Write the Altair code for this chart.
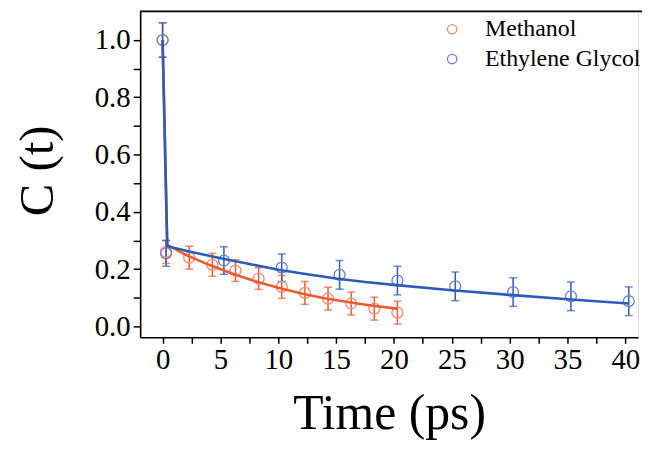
import altair as alt
import pandas as pd

# ---- data ----
series_order = ["Methanol", "Ethylene Glycol"]

meth_t = [0, 0.3, 2.3, 4.3, 6.3, 8.3, 10.3, 12.3, 14.3, 16.3, 18.3, 20.3]
meth_c = [1.0, 0.26, 0.24, 0.215, 0.195, 0.167, 0.138, 0.117, 0.097, 0.08, 0.062, 0.048]
meth_err = [0.06, 0.04, 0.04, 0.04, 0.038, 0.038, 0.04, 0.04, 0.04, 0.04, 0.04, 0.04]

eg_t = [0, 0.3, 5.3, 10.3, 15.3, 20.3, 25.3, 30.3, 35.3, 40.3]
eg_c = [1.0, 0.255, 0.23, 0.205, 0.18, 0.16, 0.14, 0.12, 0.105, 0.088]
eg_err = [0.06, 0.045, 0.048, 0.048, 0.05, 0.05, 0.05, 0.05, 0.05, 0.05]

meth_fit_t = [0, 0.4, 2, 4, 6, 8, 10, 12, 14, 16, 18, 20.3]
meth_fit_c = [1.0, 0.285, 0.25, 0.215, 0.185, 0.158, 0.135, 0.115, 0.098, 0.085, 0.073, 0.062]

eg_fit_t = [0, 0.4, 2.5, 5, 7.5, 10, 12.5, 15, 17.5, 20, 25, 30, 35, 40.3]
eg_fit_c = [1.0, 0.28, 0.26, 0.238, 0.218, 0.198, 0.182, 0.167, 0.155, 0.145, 0.126, 0.11, 0.095, 0.08]

x_ticks = [0, 2.5, 5, 7.5, 10, 12.5, 15, 17.5, 20, 22.5, 25, 27.5, 30, 32.5, 35, 37.5, 40]
y_ticks = [0.0, 0.1, 0.2, 0.3, 0.4, 0.5, 0.6, 0.7, 0.8, 0.9, 1.0]

# ---- tables ----
pts = pd.concat([
    pd.DataFrame({"t": meth_t, "c": meth_c, "err": meth_err, "series": "Methanol"}),
    pd.DataFrame({"t": eg_t, "c": eg_c, "err": eg_err, "series": "Ethylene Glycol"}),
], ignore_index=True)
pts["lo"] = pts["c"] - pts["err"]
pts["hi"] = pts["c"] + pts["err"]

fits = pd.concat([
    pd.DataFrame({"t": meth_fit_t, "c": meth_fit_c, "series": "Methanol", "o": range(len(meth_fit_t))}),
    pd.DataFrame({"t": eg_fit_t, "c": eg_fit_c, "series": "Ethylene Glycol", "o": range(len(eg_fit_t))}),
], ignore_index=True)

W, H = 501, 328
FONT = "Liberation Serif"

xs = alt.Scale(domain=[-1.94, 41.1], nice=False, zero=False)
ys = alt.Scale(domain=[-0.038, 1.10], nice=False, zero=False)

x_axis = alt.Axis(
    values=x_ticks,
    labelExpr="datum.value % 5 === 0 ? format(datum.value, 'd') : ''",
    tickSize=6,
    labelOverlap=False, labelFlush=False, grid=False,
    labelFont=FONT, labelFontSize=29, labelColor="black", labelPadding=2,
    domainColor="black", domainWidth=1.6, tickColor="black", tickWidth=1.5,
    titleFont=FONT, titleFontSize=50, titleFontWeight="normal",
    titleColor="black", titleBaseline="alphabetic", titleY=92,
)
y_axis = alt.Axis(
    values=y_ticks,
    labelExpr="round(datum.value * 10) % 2 === 0 ? format(datum.value, '.1f') : ''",
    tickSize=7,
    labelOverlap=False, labelFlush=False, grid=False,
    labelFont=FONT, labelFontSize=29, labelColor="black", labelPadding=3,
    domainColor="black", domainWidth=1.6, tickColor="black", tickWidth=1.5,
    titleFont=FONT, titleFontSize=49, titleFontWeight="normal",
    titleColor="black", titleX=-103, titleY=160, titleAlign="center",
    titleBaseline="middle", titleAngle=270,
)

X = lambda f: alt.X(f, type="quantitative", scale=xs, axis=x_axis, title="Time (ps)")
Y = lambda f: alt.Y(f, type="quantitative", scale=ys, axis=y_axis, title="C (t)")

# data-driven (alphabetical) domain: Ethylene Glycol, Methanol
line_color = alt.Color(
    "series:N",
    scale=alt.Scale(range=["#2d5cb8", "#ef5a30"]),
    legend=None,
)
pt_stroke = alt.Stroke(
    "series:N",
    scale=alt.Scale(domain=series_order, range=["#f5896b", "#6d7ed2"]),
    legend=alt.Legend(
        title=None, orient="none", legendX=302, legendY=6, padding=0,
        symbolType="circle", symbolSize=90, symbolStrokeWidth=1.3,
        labelFont=FONT, labelFontSize=24, labelColor="black",
        labelOffset=21, rowPadding=6,
    ),
)

base = alt.Chart(pts)

bars = base.mark_rule(strokeWidth=1.5).encode(
    x=X("t"), y=Y("lo"), y2="hi:Q", color=line_color,
)
cap_lo = base.mark_tick(orient="horizontal", size=8, thickness=1.5).encode(
    x=X("t"), y=Y("lo"), color=line_color,
)
cap_hi = base.mark_tick(orient="horizontal", size=8, thickness=1.5).encode(
    x=X("t"), y=Y("hi"), color=line_color,
)
points = base.mark_point(shape="circle", filled=False, size=121, strokeWidth=1.3, opacity=1).encode(
    x=X("t"), y=Y("c"), stroke=pt_stroke,
)
lines = alt.Chart(fits).mark_line(strokeWidth=2.6).encode(
    x=X("t"), y=Y("c"), color=line_color, detail="series:N", order="o:Q",
)
top_border = alt.Chart(pd.DataFrame({"k": [0]})).mark_rule(color="black", strokeWidth=1.6).encode(
    x=alt.value(0), x2=alt.value(W + 4), y=alt.value(0)
)

chart = alt.layer(bars, cap_lo, cap_hi, points, lines, top_border).properties(
    width=W, height=H,
    autosize=alt.AutoSizeParams(type="none"),
    padding={"left": 133, "top": 2, "right": 4, "bottom": 105},
).configure_view(stroke="transparent").configure(background="white")

chart.save("out.html", embed_options={"renderer": "svg", "actions": False})
